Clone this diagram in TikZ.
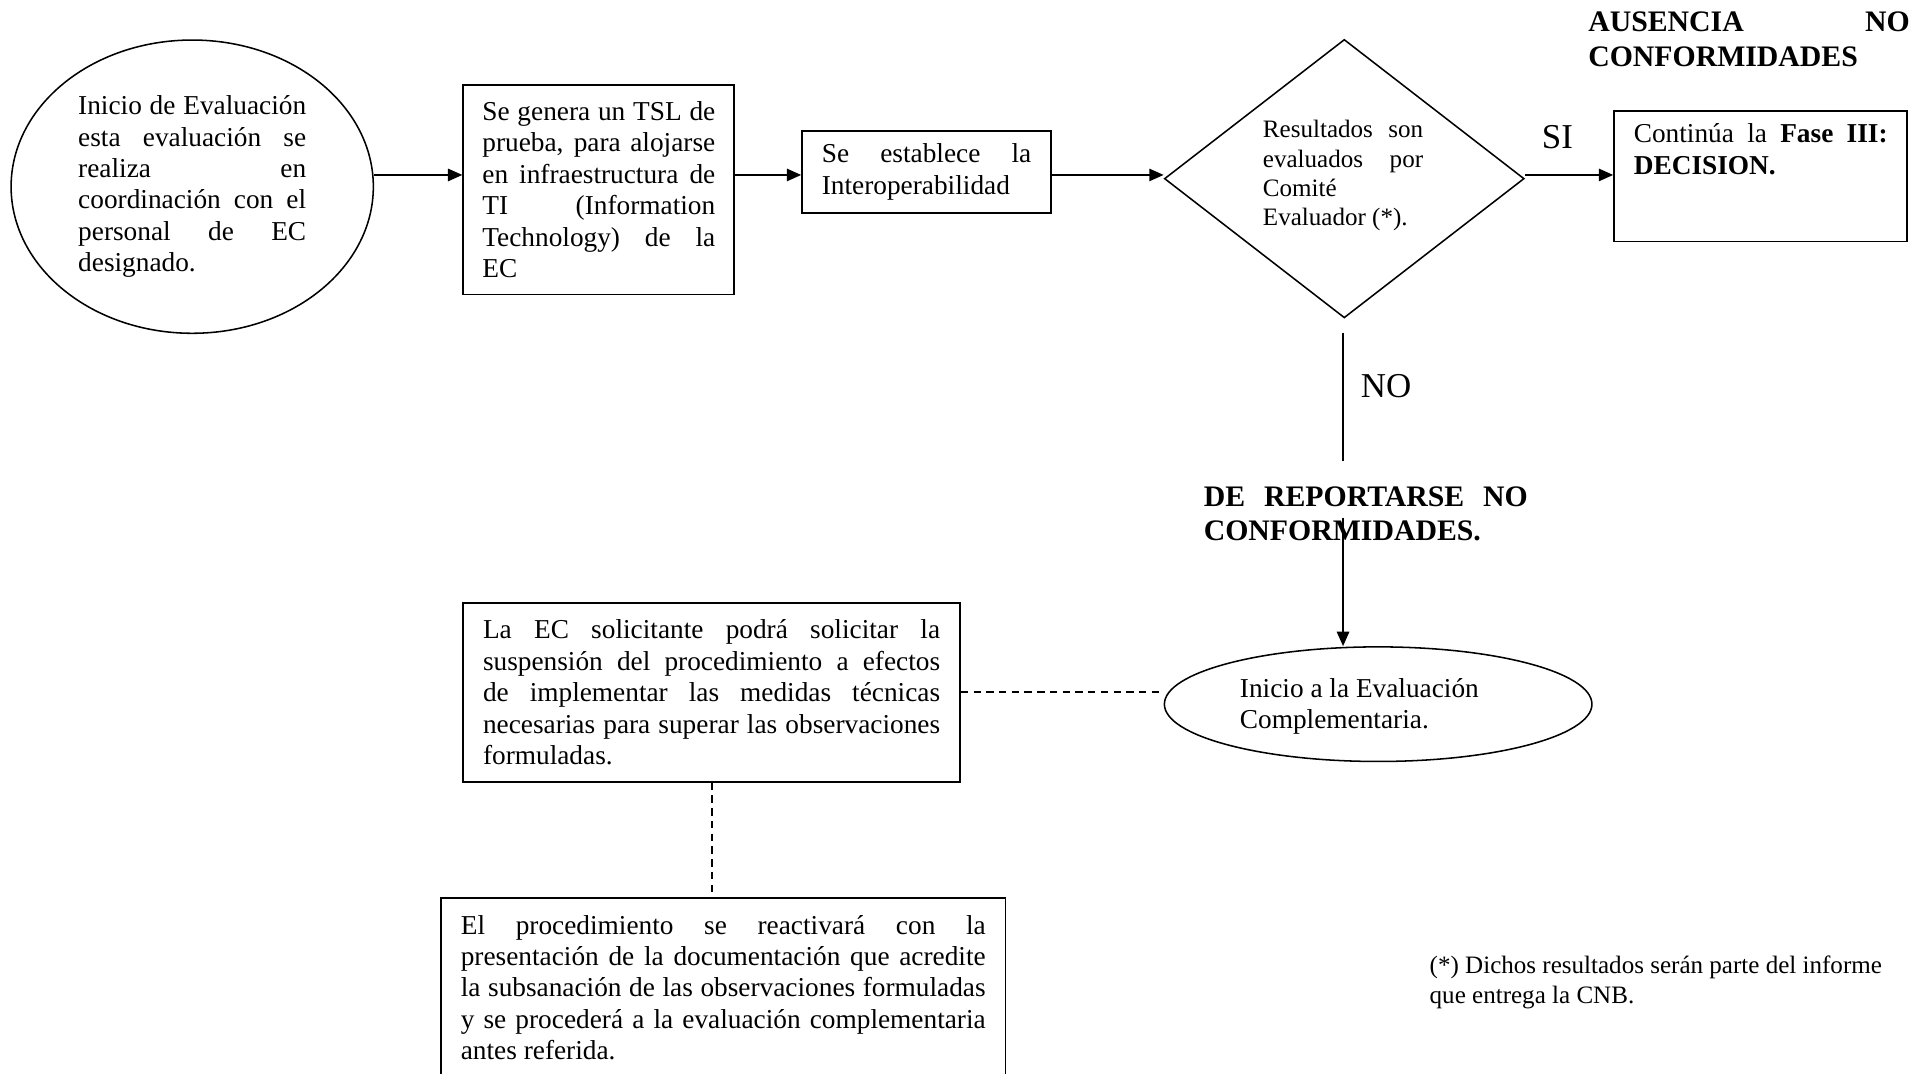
\documentclass[tikz,border=0pt]{standalone}
\usepackage{fontspec}
\setmainfont{Liberation Serif}
\usetikzlibrary{shapes.geometric,arrows.meta}
\newcommand\rs{\spaceskip=0pt\xspaceskip=0pt\relax}
\newcommand\jl[1]{\leavevmode\hbox to \hsize{\rs #1}}
\begin{document}
\begin{tikzpicture}[x=0.6pt,y=-0.6pt,
  every node/.style={font=\fontsize{13.3}{15.3}\selectfont},
  box/.style={draw,line width=0.9pt,rectangle,inner sep=0pt,align=left},
  oval/.style={draw,line width=0.75pt,ellipse,inner sep=0pt},
  txt/.style={inner sep=0pt,align=left},
  small/.style={font=\fontsize{12.2}{14.2}\selectfont},
  bigbold/.style={font=\fontsize{14.5}{16.8}\selectfont\bfseries},
  lbl/.style={inner sep=0pt,font=\fontsize{17}{20}\selectfont},
  arr/.style={line width=0.9pt,-{Triangle[length=7pt,width=6pt]}},
  dsh/.style={line width=1pt,dash pattern=on 3.6pt off 2.6pt},
  ]
\useasboundingbox (0,0) rectangle (1568,871);
\coordinate (row) at (0,142);

% start ellipse
\node[oval, minimum width=176.4pt, minimum height=142.8pt, text width=111pt, align=left] (e1) at (156,151.5)
 {\rs\jl{Inicio de Evaluación}\\
  \jl{esta evaluación se}\\
  \jl{realiza en}\\
  \jl{coordinación con el}\\
  \jl{personal de EC}\\
  designado.};

% box 2
\node[box, minimum width=132pt, minimum height=102pt, text width=113.4pt] (b2) at (486,154)
 {\rs\jl{Se genera un TSL de}\\
  \jl{prueba, para alojarse}\\
  \jl{en infraestructura de}\\
  \jl{TI (Information}\\
  \jl{Technology) de la}\\
  EC};

% box 3
\node[box, minimum width=121.2pt, minimum height=40.2pt, text width=102pt] (b3) at (752,139.5)
 {\rs\jl{Se establece la}\\
  Interoperabilidad};

% diamond
\node[draw, diamond, line width=0.75pt, minimum width=175.2pt, minimum height=135.6pt, inner sep=0pt] (d) at (1091,145) {};
\node[txt, small, text width=78pt] (dt) at (1090,142.5)
 {\rs\jl{Resultados son}\\
  \jl{evaluados por}\\
  Comité\\
  Evaluador (*).};

% box 4
\node[box, minimum width=142.8pt, minimum height=63.6pt] (b4) at (1429,143) {};
\node[txt, text width=123.6pt] (b4t) at (1429,121)
 {\rs\jl{Continúa la \textbf{Fase III:}}\\
  \textbf{DECISION.}};

\node[txt, bigbold, text width=156.6pt] (aus) at (1419.5,32)
 {\rs\jl{AUSENCIA NO}\\CONFORMIDADES};

% arrows in the top row
\draw[arr] (e1.east |- row) -- (b2.west |- row);
\draw[arr] (b2.east |- row) -- (b3.west |- row);
\draw[arr] (b3.east |- row) -- (d.west |- row);
\draw[arr] (d.east |- row) -- (b4.west |- row);
\node[lbl] (si) at (1264,111) {SI};

% NO branch
\coordinate (n1) at (1090,270);
\coordinate (n2) at (1090,374);
\coordinate (n3) at (1090,420);
\draw[line width=0.8pt] (n1) -- (n2);
\node[lbl] (no) at (1125,313) {NO};
\node[txt, bigbold, text width=157.8pt] (rep) at (1108.5,417)
 {\rs\jl{DE REPORTARSE NO}\\CONFORMIDADES.};

% second ellipse
\node[oval, minimum width=208.2pt, minimum height=55.8pt] (e2) at (1118.5,571.5) {};
\node[txt, anchor=west] (e2t) at (1006,573.5)
 {\rs Inicio a la Evaluación\\Complementaria.};
\draw[arr] (n3) -- (n3 |- e2.north);

% box 5
\node[box, minimum width=241.8pt, minimum height=87pt, text width=222.6pt] (b5) at (577.5,562)
 {\rs\jl{La EC solicitante podrá solicitar la}\\
  \jl{suspensión del procedimiento a efectos}\\
  \jl{de implementar las medidas técnicas}\\
  \jl{necesarias para superar las observaciones}\\
  formuladas.};
\draw[dsh] (b5.east) -- (b5.east -| e2.west);

% box 6
\node[box, minimum width=274.8pt, minimum height=87.6pt, text width=255.6pt] (b6) at (587,801.5)
 {\rs\jl{El procedimiento se reactivará con la}\\
  \jl{presentación de la documentación que acredite}\\
  \jl{la subsanación de las observaciones formuladas}\\
  \jl{y se procederá a la evaluación complementaria}\\
  antes referida.};
\draw[dsh] (b5.south) -- (b5.south |- b6.north);

% footnote
\node[txt, anchor=west, font=\fontsize{12.2}{14.4}\selectfont] (fn) at (1160,797.5)
 {\rs(*) Dichos resultados serán parte del informe\\que entrega la CNB.};
\end{tikzpicture}
\end{document}
